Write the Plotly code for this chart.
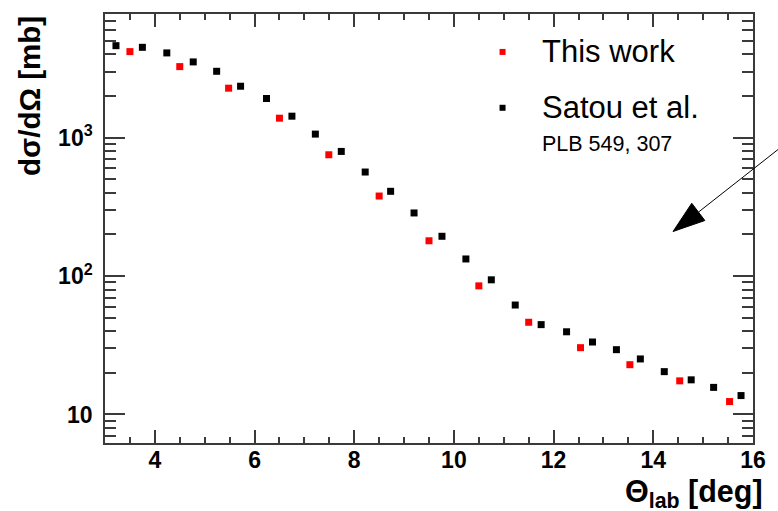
import plotly.graph_objects as go

# Differential cross section vs. lab angle
this_x = [3.5, 4.5, 5.48, 6.5, 7.49, 8.5, 9.5, 10.5, 11.5, 12.54, 13.53, 14.53, 15.53]
this_y = [4190, 3265, 2280, 1384, 753, 379, 180, 85, 46.4, 30.4, 22.9, 17.5, 12.4]

satou_x = [3.22, 3.75, 4.24, 4.77, 5.24, 5.72, 6.24, 6.75, 7.22, 7.74, 8.22, 8.73, 9.2,
           9.76, 10.24, 10.75, 11.23, 11.75, 12.26, 12.78, 13.26, 13.74, 14.22, 14.76,
           15.21, 15.76]
satou_y = [4625, 4500, 4100, 3530, 3020, 2355, 1920, 1431, 1062, 796, 565, 410, 286,
           194, 133, 94, 61.8, 44.6, 39.6, 33.4, 29.4, 25.2, 20.4, 17.8, 15.7, 13.7]

y_tickvals = [10, 100, 1000]
y_ticktext = ["10", "10<sup>2</sup>", "10<sup>3</sup>"]
y_minor = [m * 10 ** e for e in range(0, 4) for m in range(2, 10)]

FONT = "Liberation Sans, Arial, Helvetica, sans-serif"
AX = "#3a3a3a"

fig = go.Figure()
fig.add_trace(go.Scatter(x=satou_x, y=satou_y, mode="markers", name="Satou et al.",
                         marker=dict(symbol="square", size=7, color="#000000", line=dict(width=0))))
fig.add_trace(go.Scatter(x=this_x, y=this_y, mode="markers", name="This work",
                         marker=dict(symbol="square", size=7, color="#ff0000", line=dict(width=0))))

fig.update_layout(
    width=778, height=511,
    margin=dict(l=105, r=14, t=13, b=68),
    paper_bgcolor="white", plot_bgcolor="white",
    showlegend=False,
    font=dict(family=FONT, color="black"),
)

fig.update_xaxes(
    range=[3, 16], tick0=0, dtick=2,
    showgrid=False, zeroline=False,
    showline=True, linecolor=AX, linewidth=1.5, mirror="allticks",
    ticks="inside", ticklen=13, tickwidth=1.5, tickcolor=AX,
    minor=dict(dtick=0.5, ticks="inside", ticklen=6.5, tickwidth=1.5, tickcolor=AX),
    tickfont=dict(family=FONT, size=23, weight="bold"),
    ticklabelstandoff=-4,
)
fig.update_yaxes(
    type="log", range=[0.794, 3.894],
    tickvals=y_tickvals, ticktext=y_ticktext,
    showgrid=False, zeroline=False,
    showline=True, linecolor=AX, linewidth=1.5, mirror="allticks",
    ticks="inside", ticklen=20, tickwidth=1.5, tickcolor=AX,
    minor=dict(tickvals=y_minor, ticks="inside", ticklen=11, tickwidth=1.5, tickcolor=AX),
    tickfont=dict(family=FONT, size=23, weight="bold"),
    ticklabelstandoff=6,
)

# Axis titles
fig.add_annotation(text="dσ/dΩ [mb]", xref="paper", yref="paper", x=-0.1173, y=1.0,
                   xanchor="center", yanchor="top", textangle=-90, showarrow=False,
                   font=dict(family=FONT, size=29.5, weight="bold"))
fig.add_annotation(text="Θ<sub>lab</sub> [deg]", xref="paper", yref="paper", x=1.0, y=-0.068,
                   xanchor="right", yanchor="top", showarrow=False, xshift=12,
                   font=dict(family=FONT, size=30.5, weight="bold"))

# Legend
legend_items = [("This work", "#ff0000", 0.9116), ("Satou et al.", "#000000", 0.7814)]
for label, color, ypos in legend_items:
    fig.add_shape(type="rect", xref="paper", yref="paper", xsizemode="pixel", ysizemode="pixel",
                  xanchor=0.6135, yanchor=ypos, x0=-3, x1=3, y0=-3, y1=3,
                  fillcolor=color, line=dict(width=0))
    fig.add_annotation(text=label, xref="paper", yref="paper", x=0.6708, y=ypos,
                       xanchor="left", yanchor="middle", showarrow=False,
                       font=dict(family=FONT, size=31))
fig.add_annotation(text="PLB 549, 307", xref="paper", yref="paper", x=0.6708, y=0.6977,
                   xanchor="left", yanchor="middle", showarrow=False,
                   font=dict(family=FONT, size=21.5))

# Arrow pointing into the plot from the right edge
fig.add_shape(type="line", xref="paper", yref="paper", x0=0.9156, y0=0.5379, x1=1.0394, y1=0.685,
              line=dict(color="black", width=1))
fig.add_shape(type="path", xref="paper", yref="paper",
              path="M 0.8766 0.493 L 0.9055 0.5588 L 0.9257 0.5186 Z",
              fillcolor="black", line=dict(color="black", width=1))

fig.write_html("out.html")
